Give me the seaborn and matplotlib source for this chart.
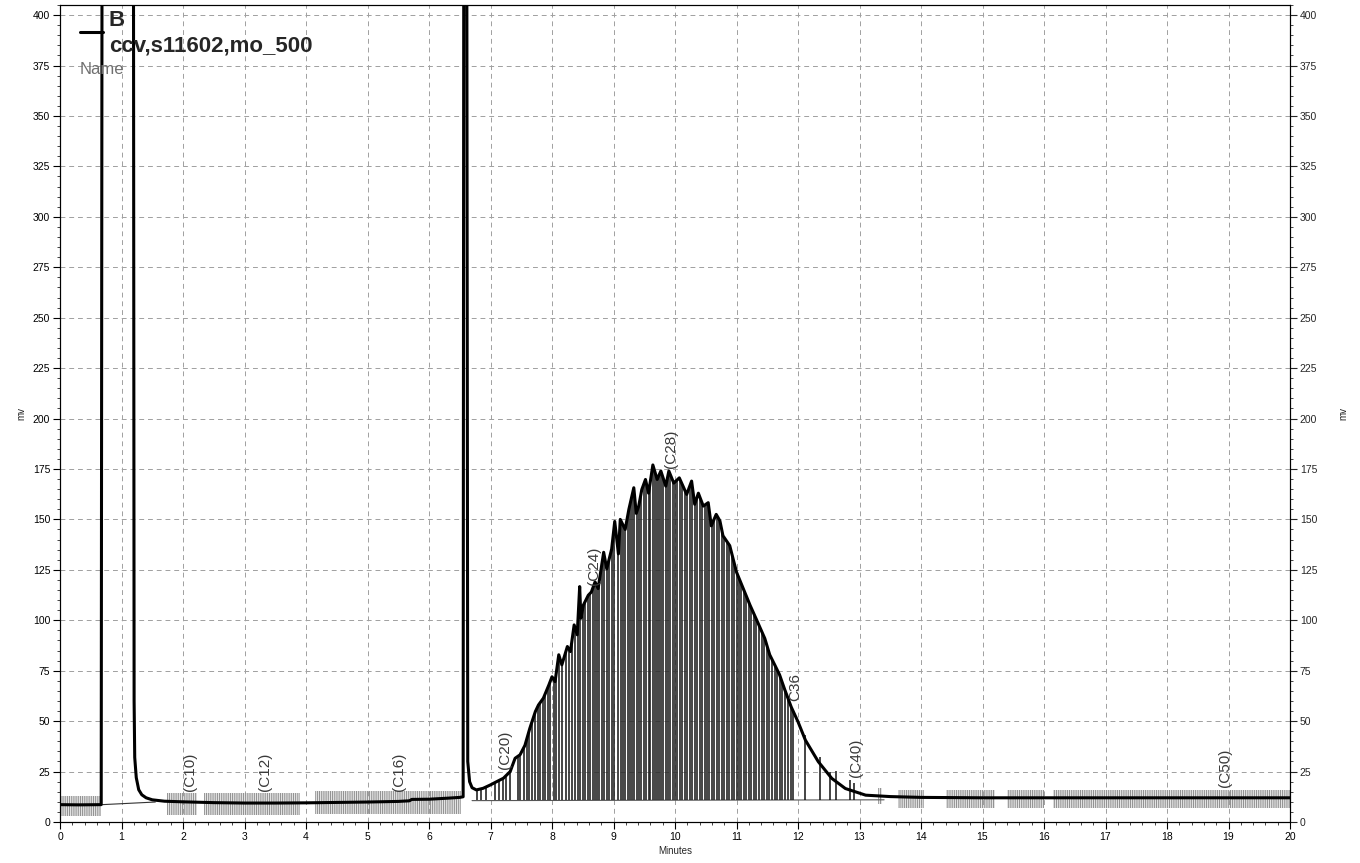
#!/usr/bin/env python3

import pandas as pd
import matplotlib
matplotlib.use('Agg')
import matplotlib.pyplot as plt
from matplotlib.lines import Line2D
from matplotlib.patches import Polygon
from matplotlib.ticker import MultipleLocator
import seaborn as sns

trace_t = [0.00, 0.30, 0.67, 0.683, 1.195, 1.205, 1.215, 1.24, 1.28, 1.33,
           1.40, 1.50, 1.70, 2.00, 2.50, 3.00, 3.50, 4.00, 4.50, 5.00,
           5.50, 5.68, 5.72, 6.00, 6.30, 6.50, 6.555, 6.565, 6.615, 6.63,
           6.66, 6.70, 6.77, 6.88, 7.00, 7.10, 7.21, 7.32, 7.40, 7.48,
           7.56, 7.64, 7.73, 7.78, 7.86, 7.95, 8.00, 8.05, 8.11, 8.16,
           8.25, 8.30, 8.36, 8.41, 8.45, 8.47, 8.51, 8.59, 8.64, 8.70,
           8.75, 8.84, 8.89, 8.97, 9.02, 9.08, 9.11, 9.19, 9.25, 9.33,
           9.37, 9.41, 9.46, 9.52, 9.57, 9.64, 9.71, 9.77, 9.85, 9.90,
           9.98, 10.07, 10.13, 10.19, 10.27, 10.32, 10.38, 10.46, 10.54, 10.59,
           10.67, 10.73, 10.78, 10.89, 11.00, 11.11, 11.22, 11.33, 11.46, 11.54,
           11.62, 11.70, 11.78, 11.89, 12.00, 12.12, 12.33, 12.55, 12.77, 13.10,
           13.50, 14.00, 15.00, 17.00, 20.00]
trace_v = [8.6, 8.5, 8.6, 420, 420, 60, 32, 22, 16, 13.5,
           12.0, 11.0, 10.3, 10.0, 9.6, 9.4, 9.4, 9.5, 9.7, 9.9,
           10.2, 10.5, 11.2, 11.3, 11.8, 12.2, 12.5, 420, 420, 30,
           20, 17, 15.9, 16.7, 18.4, 20, 21.7, 25, 31.6, 33.3,
           38, 46.5, 54.8, 58, 61.4, 68, 72, 69.6, 82.9, 77.9,
           87, 84.5, 97.7, 92.8, 116.7, 101, 107.5, 112.4, 114, 119,
           115.7, 133.7, 125.5, 135.3, 149, 132.9, 150, 145, 155, 165.7,
           153, 156.6, 164.8, 169.8, 163, 177, 169.8, 174, 166.5, 174,
           168, 170.6, 166.5, 162.4, 169, 157.5, 163, 156.6, 158.3, 146.8,
           152.5, 149.3, 141.9, 137, 123.9, 115.7, 107.5, 100, 91, 82.9,
           78, 73, 66, 57, 49.7, 40.6, 29.9, 21.6, 16.6, 13.3,
           12.6, 12.2, 12.0, 12.0, 12.0]

# Linha de base da integração
base_t = [0.683, 1.55]
base_v = [8.6, 9.9]
hump_base_t = [6.70, 13.40]
hump_base_v = [10.6, 11.0]

# Linhas de corte (picos integrados) sob o envelope
drop_t = [6.78, 6.85, 6.93, 7.07, 7.14, 7.21, 7.26, 7.31, 7.44, 7.48,
          7.54, 7.59, 7.63, 7.67, 7.73, 7.77, 7.81, 7.85, 7.89, 7.93,
          7.97, 8.03, 8.07, 8.11, 8.16, 8.22, 8.27, 8.33, 8.38, 8.42,
          8.46, 8.50, 8.54, 8.58, 8.62, 8.66, 8.70, 8.73, 8.77, 8.81,
          8.85, 8.89, 8.93, 8.97, 9.01, 9.07, 9.12, 9.15, 9.19, 9.23,
          9.27, 9.30, 9.34, 9.38, 9.42, 9.45, 9.49, 9.53, 9.57, 9.60,
          9.64, 9.67, 9.71, 9.74, 9.78, 9.81, 9.85, 9.89, 9.92, 9.96,
          10.00, 10.04, 10.08, 10.12, 10.16, 10.20, 10.24, 10.28, 10.32, 10.36,
          10.40, 10.44, 10.48, 10.52, 10.56, 10.60, 10.64, 10.68, 10.72, 10.76,
          10.80, 10.84, 10.88, 10.92, 10.96, 11.00, 11.04, 11.08, 11.12, 11.16,
          11.20, 11.24, 11.28, 11.32, 11.36, 11.41, 11.45, 11.49, 11.53, 11.57,
          11.62, 11.66, 11.70, 11.74, 11.79, 11.83, 11.89, 11.92]
drop_base = 10.8

# Linhas de corte da cauda (ultrapassam o sinal)
tail_t = [12.12, 12.36, 12.52, 12.62, 12.85, 12.91]
tail_top = [43, 32, 25, 25.5, 20.8, 19.3]

# Faixas de ruído (marcas cinzas de picos rejeitados)
noise_start = [0.00, 1.74, 2.34, 4.15, 13.30, 13.62, 14.40, 15.40, 16.15]
noise_end = [0.66, 2.22, 3.90, 6.52, 13.37, 14.05, 15.20, 16.00, 20.00]
noise_low = [3.0, 3.5, 3.5, 4.0, 9.0, 6.8, 6.8, 6.8, 6.8]
noise_high = [13.0, 14.5, 14.5, 15.5, 17.0, 16.0, 16.0, 16.0, 16.0]

# Rótulos dos alcanos
label_text = ['(C10)', '(C12)', '(C16)', '(C20)', '(C24)', '(C28)', 'C36', '(C40)', '(C50)']
label_t = [2.11, 3.34, 5.52, 7.24, 8.69, 9.93, 11.95, 12.95, 18.94]
label_v = [25, 25, 25, 36, 127, 185, 67, 32, 27]

sns.set_theme(style='ticks')
plt.rcParams['font.family'] = ['Liberation Sans', 'DejaVu Sans']
plt.rcParams['hatch.linewidth'] = 0.8

W, H = 1360, 863
fig = plt.figure(figsize=(W / 100, H / 100), dpi=100)
ax = fig.add_axes([60 / W, 41 / H, 1230 / W, 817 / H])

df = pd.DataFrame({'Minutes': trace_t, 'mv': trace_v})

# 1. Ruído
for a, b, lo, hi in zip(noise_start, noise_end, noise_low, noise_high):
    ax.fill_between([a, b], lo, hi, facecolor='none', edgecolor='#939393',
                    hatch='|' * 9, lw=0, zorder=1)

# 2. Linhas de base
ax.plot(base_t, base_v, color='#333333', lw=0.8, zorder=2)
ax.plot(hump_base_t, hump_base_v, color='#555555', lw=0.8, zorder=2)

# 3. Linhas de corte recortadas pelo envelope do sinal
hump = df[(df['Minutes'] >= 6.70) & (df['Minutes'] <= 13.2)]
verts = list(zip(hump['Minutes'], hump['mv'])) + [(13.2, drop_base), (6.70, drop_base)]
clip = Polygon(verts, closed=True, transform=ax.transData)
dl = ax.vlines(drop_t, drop_base, 300, colors='#262626', lw=1.2, zorder=2)
dl.set_clip_path(clip)
ax.vlines(tail_t, drop_base, tail_top, colors='#111111', lw=1.1, zorder=2)

# 4. Sinal
sns.lineplot(data=df, x='Minutes', y='mv', sort=False, estimator=None,
             color='black', lw=2.2, ax=ax, zorder=3)

for txt, t, v in zip(label_text, label_t, label_v):
    ax.text(t, v, txt, rotation=90, ha='center', va='center',
            fontsize=11, color='#3a3a3a', zorder=4)

# 5. Eixos
ax.set_xlim(0, 20)
ax.set_ylim(0, 405)
ax.xaxis.set_major_locator(MultipleLocator(1))
ax.xaxis.set_minor_locator(MultipleLocator(0.2))
ax.yaxis.set_major_locator(MultipleLocator(25))
ax.yaxis.set_minor_locator(MultipleLocator(5))
ax.set_axisbelow(True)
ax.grid(True, which='major', color='#a0a0a0', lw=0.7, ls=(0, (5, 4)))
ax.tick_params(which='major', labelsize=7.5, length=5, width=0.8, direction='out',
               pad=2, colors='black')
ax.tick_params(which='minor', length=2.5, width=0.6, direction='out')
ax.set_xlabel('Minutes', fontsize=7)
ax.xaxis.set_label_coords(0.5, -0.029)
ax.set_ylabel('mv', fontsize=7)
ax.yaxis.set_label_coords(-0.027, 0.5)
for s in ax.spines.values():
    s.set_color('black')
    s.set_linewidth(0.8)

ax2 = ax.twinx()
ax2.set_ylim(ax.get_ylim())
ax2.yaxis.set_major_locator(MultipleLocator(25))
ax2.yaxis.set_minor_locator(MultipleLocator(5))
ax2.tick_params(which='major', labelsize=7.5, length=5, width=0.8, direction='out', pad=2)
ax2.tick_params(which='minor', length=2.5, width=0.6, direction='out')
ax2.set_ylabel('mv', fontsize=7)
ax2.yaxis.set_label_coords(1.039, 0.5)
for s in ax2.spines.values():
    s.set_color('black')
    s.set_linewidth(0.8)

# 6. Legenda
fig.add_artist(Line2D([80 / W, 103 / W], [1 - 32 / H, 1 - 32 / H],
                      transform=fig.transFigure, color='black', lw=2.2))
fig.text(108 / W, 1 - 20 / H, 'B', fontsize=16, fontweight='bold', va='center')
fig.text(109 / W, 1 - 46 / H, 'ccv,s11602,mo_500', fontsize=16,
         fontweight='bold', va='center')
fig.text(80 / W, 1 - 69 / H, 'Name', fontsize=12, color='#707070', va='center')

fig.savefig('out.png', dpi=100)
